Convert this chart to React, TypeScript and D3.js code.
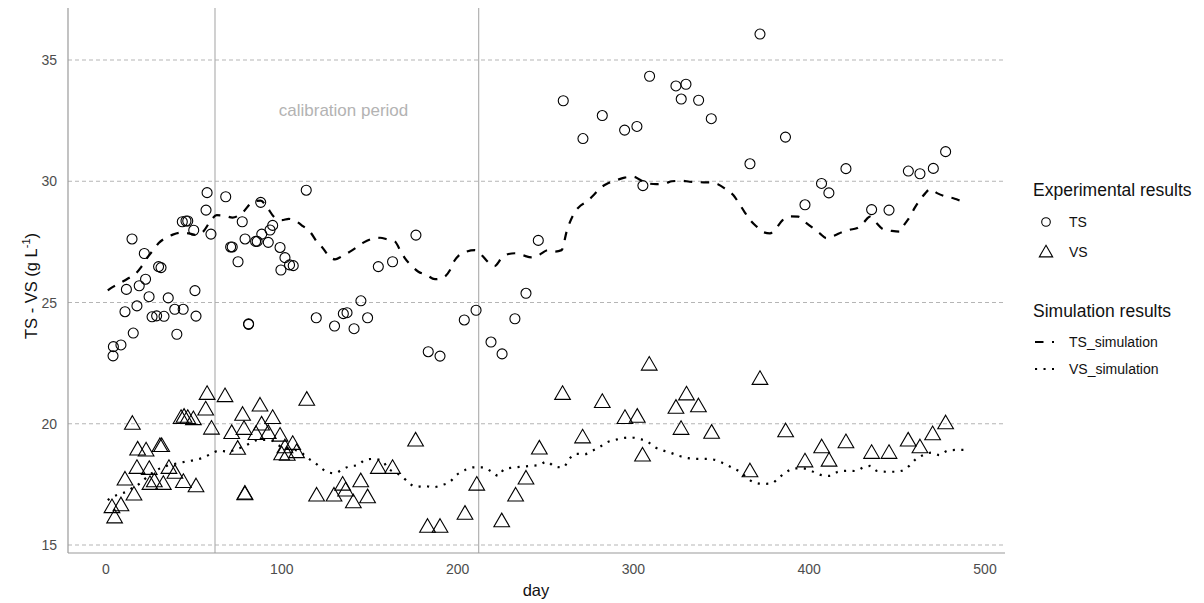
import React from "react";
import * as d3 from "d3";

const tsDay = [4.2, 4, 8.5, 10.8, 11.6, 14.8, 15.5, 17.6, 18.9, 21.8, 22.5, 24.5, 26.2, 28.8, 29.9, 31.3, 33.0, 35.4, 39.1, 40.3, 43.4, 43.9, 45.5, 46.5, 49.9, 50.6, 51.2, 56.9, 57.5, 59.7, 68.1, 70.9, 71.8, 75.1, 77.5, 79.1, 81.1, 81.1, 85.1, 86.0, 88.0, 88.6, 92.3, 93.3, 94.8, 99.0, 99.5, 101.8, 104.4, 106.5, 113.9, 119.6, 130.0, 135.0, 137.1, 141.1, 145.0, 148.8, 154.9, 163.0, 176.3, 183.3, 190.0, 203.8, 210.5, 219.0, 225.3, 232.6, 238.9, 245.9, 260.1, 271.3, 282.3, 295.0, 302.0, 305.4, 309.2, 324.2, 327.2, 329.9, 337.1, 344.3, 366.3, 372.0, 386.5, 397.6, 407.0, 411.2, 420.9, 435.5, 445.4, 456.4, 463.0, 470.6, 477.6];
const tsVal = [23.18, 22.8, 23.25, 24.62, 25.54, 27.62, 23.74, 24.86, 25.69, 27.02, 25.96, 25.24, 24.41, 24.45, 26.48, 26.44, 24.43, 25.19, 24.72, 23.69, 28.33, 24.72, 28.36, 28.36, 27.98, 25.49, 24.44, 28.81, 29.53, 27.82, 29.36, 27.29, 27.29, 26.68, 28.33, 27.62, 24.1, 24.12, 27.52, 27.52, 29.13, 27.82, 27.48, 27.99, 28.18, 27.27, 26.34, 26.85, 26.55, 26.52, 29.63, 24.37, 24.03, 24.54, 24.58, 23.92, 25.07, 24.37, 26.48, 26.68, 27.78, 22.97, 22.79, 24.28, 24.68, 23.37, 22.88, 24.33, 25.38, 27.56, 33.32, 31.76, 32.71, 32.11, 32.26, 29.82, 34.33, 33.93, 33.39, 34.0, 33.34, 32.58, 30.72, 36.07, 31.82, 29.03, 29.91, 29.52, 30.52, 28.83, 28.81, 30.42, 30.31, 30.53, 31.22];

const vsDay = [3.4, 4.9, 8.5, 10.8, 15.0, 15.9, 17.6, 18.0, 22.8, 24.6, 25.0, 27.5, 30.7, 31.7, 32.6, 35.8, 39.2, 42.7, 44.0, 44.4, 46.5, 49.7, 51.2, 56.7, 57.5, 60.0, 67.7, 71.5, 74.9, 77.7, 78.5, 79.0, 79.0, 85.3, 87.6, 88.5, 92.3, 94.8, 99.0, 99.9, 101.8, 103.1, 106.2, 108.4, 114.2, 119.8, 129.7, 134.6, 136.3, 140.7, 144.9, 148.8, 154.9, 163.0, 176.1, 182.9, 190.0, 204.2, 210.9, 225.1, 233.0, 238.9, 246.5, 259.7, 271.1, 282.3, 295.2, 302.2, 305.2, 309.0, 324.2, 327.1, 330.2, 337.0, 344.5, 366.3, 372.0, 386.6, 397.6, 407.1, 411.3, 420.9, 435.5, 445.4, 456.3, 463.0, 470.2, 477.6];
const vsVal = [16.52, 16.1, 16.6, 17.66, 19.96, 17.04, 18.14, 18.9, 18.86, 18.1, 17.48, 17.59, 19.04, 19.04, 17.48, 18.14, 17.94, 20.2, 17.56, 20.25, 20.2, 20.15, 17.38, 20.55, 21.19, 19.76, 21.1, 19.58, 18.93, 20.33, 19.75, 17.05, 17.08, 19.54, 20.71, 19.93, 19.58, 20.2, 19.47, 18.7, 18.99, 18.68, 19.13, 18.79, 20.95, 17.0, 17.0, 17.45, 17.21, 16.72, 17.59, 16.93, 18.14, 18.14, 19.27, 15.71, 15.71, 16.25, 17.45, 15.94, 17.0, 17.7, 18.94, 21.19, 19.4, 20.86, 20.2, 20.25, 18.65, 22.4, 20.62, 19.75, 21.17, 20.68, 19.59, 18.0, 21.81, 19.65, 18.41, 18.99, 18.44, 19.2, 18.76, 18.76, 19.27, 18.99, 19.53, 19.98];

const simTsDay = [1, 3, 8, 12.7, 17, 20.2, 24, 26.9, 30, 33.6, 38, 43, 47, 51.5, 55, 59.2, 63, 67.7, 72, 77.2, 83.8, 88, 91.4, 96, 99.9, 104, 107.5, 112, 116, 120, 122.7, 127, 130.3, 134, 138.8, 142, 146.4, 151, 155.9, 160, 164.4, 167, 170.1, 174, 177.7, 182, 187.1, 191, 195.7, 198, 201, 205, 209.9, 213, 218.4, 221, 225, 229, 232.6, 237, 242.1, 246, 251.6, 255, 259.2, 262, 266.8, 270, 273.4, 277, 281, 285, 289.5, 295, 300, 304, 308.4, 313, 317.9, 322, 327.4, 332, 337.9, 343, 348.3, 352, 356.8, 360, 363.5, 367, 370.1, 374, 377.7, 381, 384.9, 389, 393.8, 398, 402.3, 406, 409.9, 414, 419.4, 423, 427, 431, 434.6, 438, 442.1, 447, 451.6, 454, 457.3, 460, 463, 466, 468.7, 473, 478.2, 482, 486.1, 488];
const simTsVal = [25.5, 25.6, 25.8, 26.0, 26.2, 26.48, 26.9, 27.16, 27.45, 27.65, 27.8, 27.88, 27.85, 27.78, 27.9, 28.33, 28.6, 28.57, 28.5, 28.68, 29.16, 29.2, 28.95, 28.5, 28.4, 28.45, 28.37, 28.15, 27.92, 27.5, 27.3, 26.9, 26.78, 26.9, 27.1, 27.25, 27.47, 27.62, 27.67, 27.6, 27.51, 27.2, 26.82, 26.5, 26.27, 26.15, 25.96, 26.0, 26.34, 26.7, 26.96, 27.1, 27.16, 27.0, 26.6, 26.5, 26.82, 27.0, 27.03, 26.95, 26.86, 26.95, 27.16, 27.1, 27.16, 27.92, 28.74, 29.0, 29.16, 29.4, 29.71, 29.9, 30.02, 30.15, 30.19, 30.05, 29.91, 29.88, 29.91, 30.0, 30.02, 29.98, 29.96, 29.95, 29.87, 29.7, 29.43, 29.1, 28.7, 28.35, 28.13, 27.9, 27.85, 28.05, 28.4, 28.55, 28.54, 28.3, 28.06, 27.85, 27.65, 27.75, 27.92, 28.0, 28.06, 28.3, 28.54, 28.3, 28.02, 27.95, 27.92, 28.2, 28.54, 28.9, 29.23, 29.5, 29.67, 29.5, 29.36, 29.3, 29.2, 29.18];

const simVsDay = [1, 2.3, 6.1, 11.7, 15, 19.3, 23.1, 27, 30.7, 34, 38.2, 45.5, 50, 55.3, 59.5, 64.4, 69.5, 74, 78.1, 82, 86.6, 93.3, 99, 105.6, 110.4, 114.1, 118.8, 122.7, 126, 130.3, 134, 137.8, 143.5, 147.3, 152.4, 157.7, 159.6, 164, 168.1, 172.5, 176.7, 181.5, 186.2, 190.9, 195.7, 199.4, 204.2, 208.9, 214.6, 219.4, 223.2, 226.4, 231.3, 236.4, 241.2, 246.4, 250.6, 255.4, 260.1, 263.5, 267.7, 272.5, 276.8, 281, 285.7, 289.5, 293.3, 298.4, 303.3, 307.5, 312.3, 316, 320.8, 326.1, 331.2, 336, 341.3, 346.4, 351.1, 355.9, 360.6, 364.4, 368.6, 373.9, 378.6, 382.4, 387.1, 391.9, 396.2, 401.3, 406.5, 411.7, 416.5, 421.6, 426.6, 430.7, 434.6, 438.7, 443.7, 448.4, 452.6, 456.9, 460.2, 464.9, 469.7, 474, 478.8, 483.5, 488];
const simVsVal = [16.85, 16.92, 17.06, 17.2, 17.35, 17.54, 17.79, 18.0, 18.16, 18.25, 18.33, 18.44, 18.5, 18.6, 18.75, 18.89, 18.85, 18.95, 19.05, 19.2, 19.33, 19.33, 19.08, 18.95, 18.85, 18.62, 18.39, 18.16, 18.0, 17.96, 18.1, 18.23, 18.3, 18.51, 18.55, 18.44, 18.23, 18.0, 17.85, 17.54, 17.4, 17.43, 17.38, 17.47, 17.61, 17.89, 18.09, 18.2, 18.2, 18.02, 17.85, 18.12, 18.19, 18.23, 18.26, 18.3, 18.44, 18.23, 18.2, 18.55, 18.76, 18.75, 18.89, 19.05, 19.26, 19.33, 19.4, 19.44, 19.37, 19.29, 19.03, 18.92, 18.81, 18.67, 18.58, 18.55, 18.55, 18.51, 18.37, 18.2, 18.02, 17.79, 17.58, 17.52, 17.54, 17.75, 18.02, 18.16, 18.16, 18.05, 17.89, 17.85, 18.02, 18.06, 18.05, 18.2, 18.26, 18.05, 18.02, 18.02, 18.06, 18.26, 18.51, 18.71, 18.81, 18.71, 18.89, 18.92, 18.92];

const xTicks = [0, 100, 200, 300, 400, 500];
const yTicks = [15, 20, 25, 30, 35];
const calibrationDays = [62, 212];

const FONT = "'Liberation Sans', Arial, sans-serif";

function triPath(cx: number, cy: number, s = 1) {
  const r = 9.07 * s, hw = 7.85 * s, yc = 4.53 * s;
  return `M${cx},${cy - r}L${cx + hw},${cy + yc}L${cx - hw},${cy + yc}Z`;
}

export default function App() {
  const x = d3.scaleLinear().domain([0, 500]).range([106, 985]);
  const y = d3.scaleLinear().domain([15, 35]).range([545, 60]);
  const left = 68, right = 1005, top = 8, bottom = 553;

  const lineTs = d3.line<number>().x((_, i) => x(simTsDay[i])).y((v) => y(v)).curve(d3.curveMonotoneX);
  const lineVs = d3.line<number>().x((_, i) => x(simVsDay[i])).y((v) => y(v)).curve(d3.curveMonotoneX);

  return (
    <svg width={1204} height={603} style={{ position: "absolute", left: 0, top: 0, background: "#fff" }} fontFamily={FONT}>
      <rect width={1204} height={603} fill="#fff" />
      {yTicks.map((t) => (
        <line key={"g" + t} x1={left} x2={right} y1={y(t)} y2={y(t)} stroke="#b5b5b5" strokeWidth={1} strokeDasharray="4 3" />
      ))}
      {calibrationDays.map((d) => (
        <line key={"c" + d} x1={x(d)} x2={x(d)} y1={top} y2={bottom} stroke="#aaaaaa" strokeWidth={1.1} />
      ))}
      <text x={343.5} y={116} fill="#b3b3b3" fontSize={17} textAnchor="middle">calibration period</text>

      <line x1={left} x2={left} y1={top} y2={bottom} stroke="#9a9a9a" strokeWidth={1.2} />
      <line x1={left} x2={right} y1={bottom} y2={bottom} stroke="#9a9a9a" strokeWidth={1.2} />

      {yTicks.map((t) => (
        <text key={"yt" + t} x={57} y={y(t) + 5} fill="#4d4d4d" fontSize={14} textAnchor="end">{t}</text>
      ))}
      {xTicks.map((t) => (
        <text key={"xt" + t} x={x(t)} y={574} fill="#4d4d4d" fontSize={14} textAnchor="middle">{t}</text>
      ))}
      <text x={536} y={596} fontSize={16.5} fill="#111" textAnchor="middle">day</text>
      <text transform="translate(37,286) rotate(-90)" fontSize={16.5} fill="#111" textAnchor="middle">
        TS - VS (g L<tspan dy={-7} fontSize={11}>-1</tspan><tspan dy={7}>)</tspan>
      </text>

      <path d={lineTs(simTsVal) || ""} fill="none" stroke="#000" strokeWidth={2.2} strokeDasharray="8.5 8.5" />
      <path d={lineVs(simVsVal) || ""} fill="none" stroke="#000" strokeWidth={2.2} strokeDasharray="2.1 6.4" />

      {tsDay.map((d, i) => (
        <circle key={"ts" + i} cx={x(d)} cy={y(tsVal[i])} r={5} fill="none" stroke="#000" strokeWidth={1.1} />
      ))}
      {vsDay.map((d, i) => (
        <path key={"vs" + i} d={triPath(x(d), y(vsVal[i]))} fill="none" stroke="#000" strokeWidth={1.1} />
      ))}

      <g>
        <text x={1033} y={196} fontSize={17.5} fill="#111">Experimental results</text>
        <circle cx={1046} cy={222} r={4.3} fill="none" stroke="#000" strokeWidth={1.1} />
        <text x={1069} y={227} fontSize={14} fill="#111">TS</text>
        <path d={triPath(1046, 253, 0.85)} fill="none" stroke="#000" strokeWidth={1.1} />
        <text x={1069} y={257} fontSize={14} fill="#111">VS</text>

        <text x={1033} y={317} fontSize={17.5} fill="#111">Simulation results</text>
        <line x1={1035} x2={1054} y1={342} y2={342} stroke="#000" strokeWidth={2.2} strokeDasharray="8.5 8.5" />
        <text x={1069} y={347} fontSize={14} fill="#111">TS_simulation</text>
        <line x1={1035} x2={1054} y1={369} y2={369} stroke="#000" strokeWidth={2.2} strokeDasharray="2.1 6.4" />
        <text x={1069} y={374} fontSize={14} fill="#111">VS_simulation</text>
      </g>
    </svg>
  );
}
